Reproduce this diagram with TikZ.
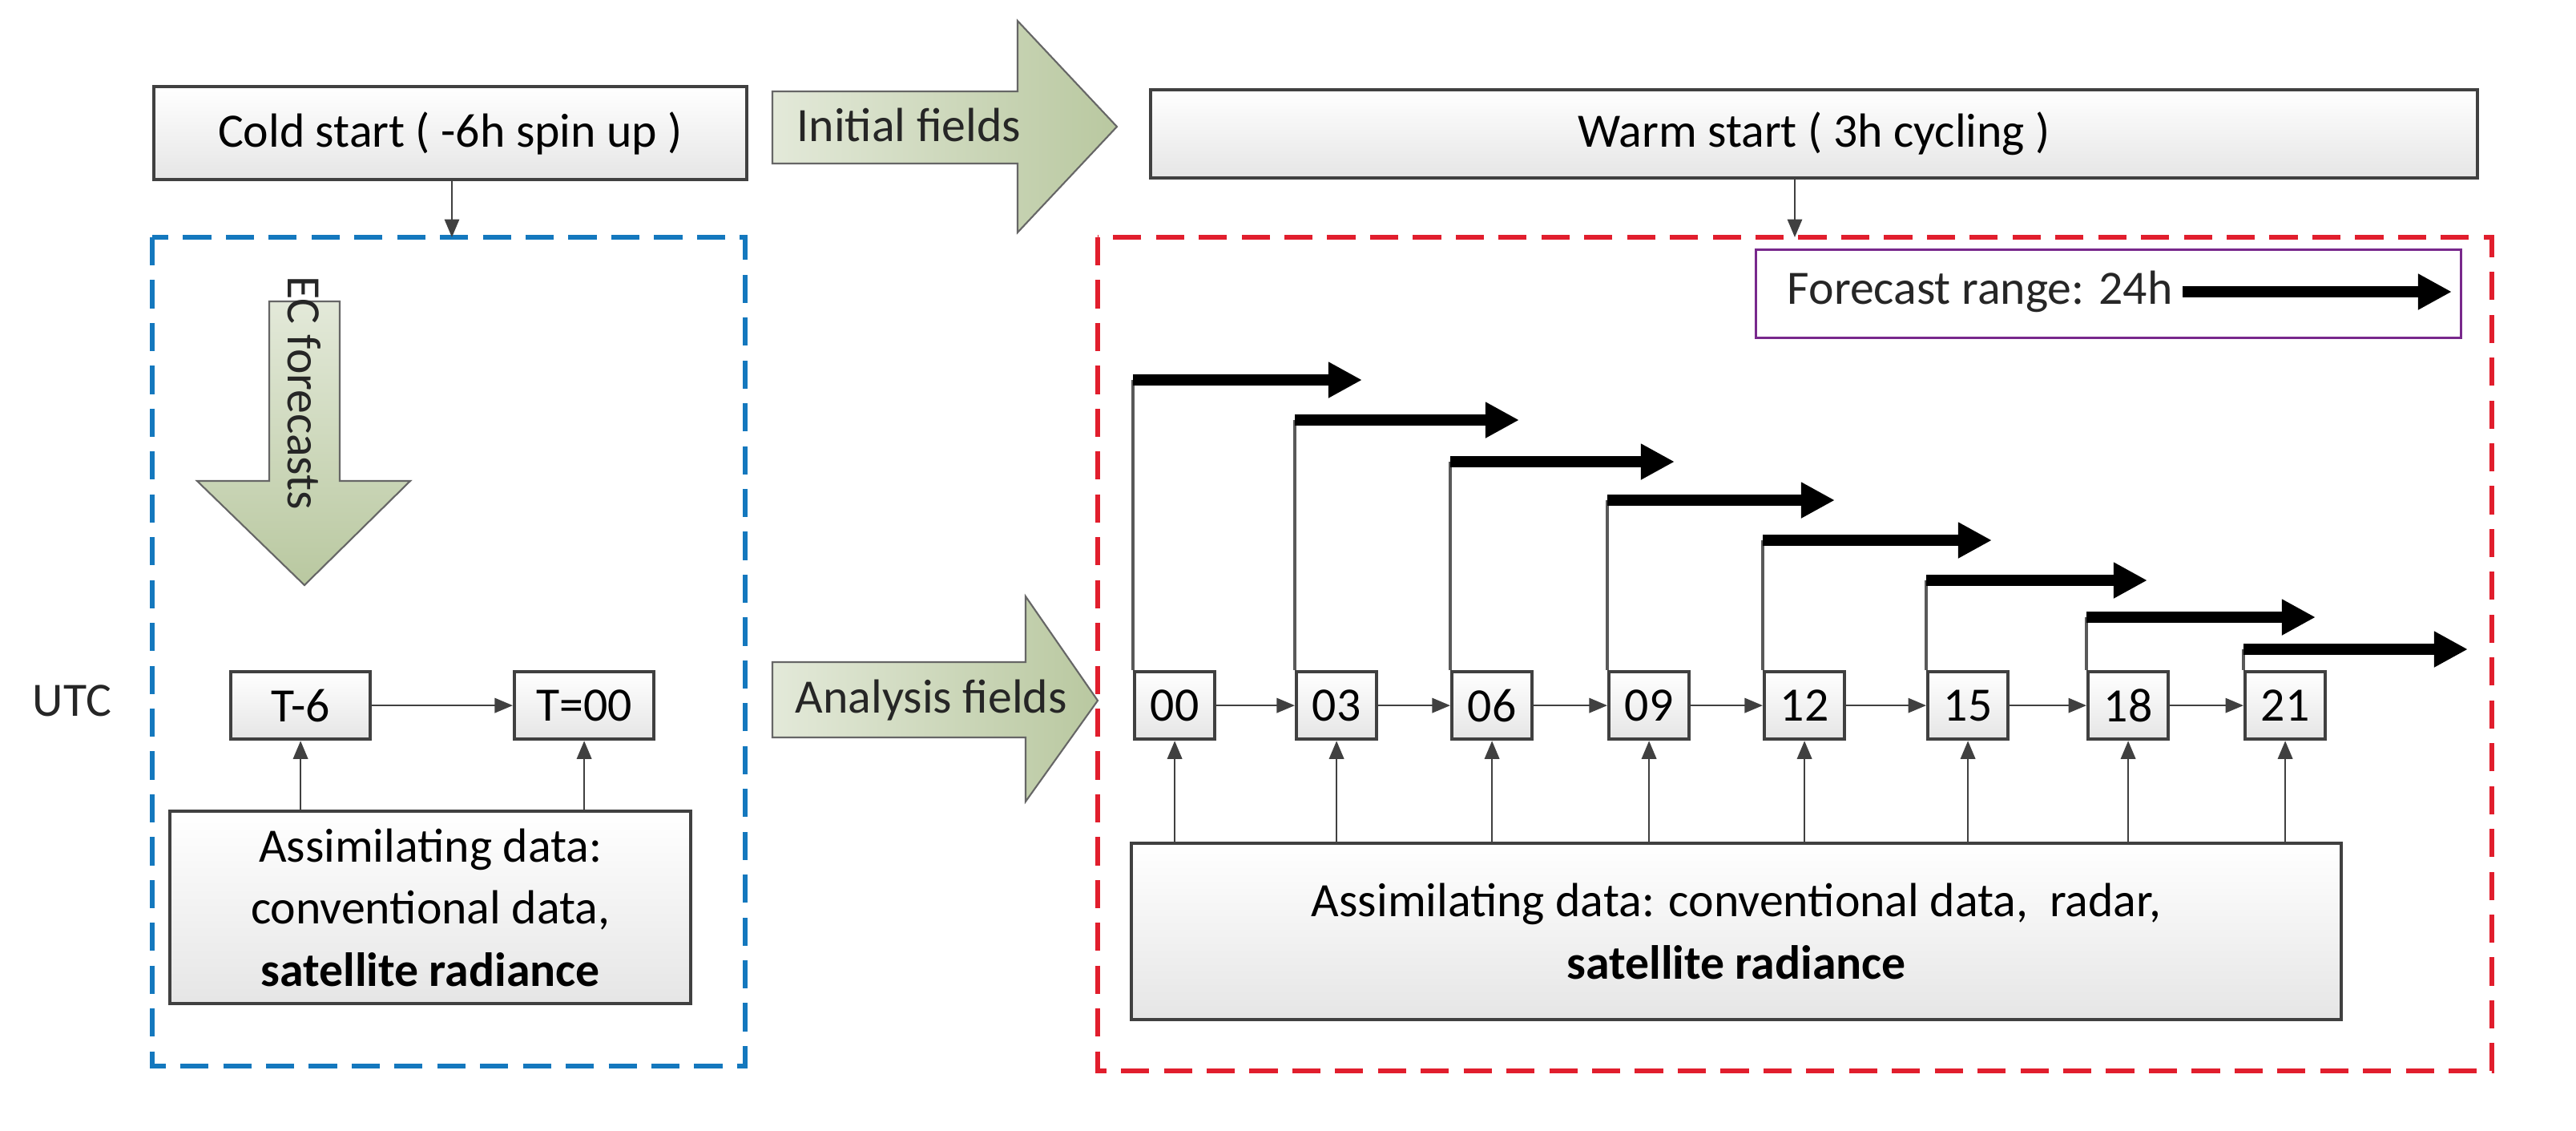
\documentclass[tikz,border=0pt]{standalone}
\usepackage{fontspec}
\setmainfont{Carlito}
\usetikzlibrary{arrows.meta}
\definecolor{grn}{RGB}{185,200,160}
\definecolor{bl}{RGB}{20,120,190}
\definecolor{rd}{RGB}{225,30,45}
\definecolor{pur}{RGB}{120,40,140}
\begin{document}
\begin{tikzpicture}[x=0.01cm,y=-0.01cm,
 box/.style={draw=black!75,line width=0.6pt,top color=white,bottom color=black!10,inner sep=0pt,font=\fontsize{8.5}{11}\selectfont},
 tbox/.style={box,minimum width=50*0.01cm,minimum height=42*0.01cm},
 gbase/.style={draw=black!60,line width=0.3pt},
 garrow/.style={gbase,left color=grn!40,right color=grn},
 vgarrow/.style={gbase,top color=grn!40,bottom color=grn},
 con/.style={draw=black!75,line width=0.35pt,-{Triangle[length=3.2pt,width=2.6pt]}},
 thick/.style={line width=2pt,-{Triangle[length=6pt,width=6pt]}},
 lbl/.style={font=\fontsize{8.5}{11}\selectfont,text=black!85}]
\useasboundingbox (0,0) rectangle (1607.5,705);
% top
\node[box,minimum width=370*0.01cm,minimum height=58*0.01cm,anchor=north west] (cold) at (95,53) {Cold start ( -6h spin up )};
\node[box,minimum width=828*0.01cm,minimum height=55*0.01cm,anchor=north west] (warm) at (717,55) {Warm start ( 3h cycling )};
\path[garrow] (482,57)--(635,57)--(635,13)--(697,79)--(635,145)--(635,102)--(482,102)--cycle;
\node[lbl,anchor=west] (init) at (485,78) {Initial fields};
% dashed frames
\draw[bl,line width=0.9pt,dash pattern=on 5pt off 2.6pt] (95,148) rectangle (465,665);
\draw[rd,line width=0.9pt,dash pattern=on 5pt off 2.6pt] (685,148) rectangle (1555,668);
\coordinate (btop) at (282,148);
\coordinate (rtop) at (1120,148);
\draw[con] (cold.south -| btop) -- (btop);
\draw[con] (warm.south -| rtop) -- (rtop);
% EC forecasts
\path[vgarrow] (168,188)--(212,188)--(212,300)--(256,300)--(190,365)--(123,300)--(168,300)--cycle;
\node[lbl,rotate=-90] (ec) at (190,245) {EC forecasts};
% UTC row
\node[lbl] (utc) at (45,437) {UTC};
\node[tbox,minimum width=87*0.01cm,anchor=north west] (t6) at (143,418) {T-6};
\node[tbox,minimum width=87*0.01cm,anchor=north west] (t0) at (320,418) {T=00};
\draw[con] (t6) -- (t0);
\node[box,minimum width=325*0.01cm,minimum height=120*0.01cm,anchor=north west,align=center] (ldata) at (105,505) {Assimilating data:\\conventional data,\\\textbf{satellite radiance}};
\draw[con] (ldata.north -| t6) -- (t6);
\draw[con] (ldata.north -| t0) -- (t0);
% Analysis fields
\path[garrow] (482,413)--(640,413)--(640,372)--(685,437)--(640,500)--(640,460)--(482,460)--cycle;
\node[lbl,anchor=west] (ana) at (484,437) {Analysis fields};
% time boxes
\node[box,minimum width=755*0.01cm,minimum height=110*0.01cm,anchor=north west,align=center] (rdata) at (705,525) {Assimilating data: conventional data,\ \ radar,\\\textbf{satellite radiance}};
\foreach \n/\x/\ay/\ex in {00/707/237/850,03/808/262/948,06/905/288/1045,09/1003/312/1145,12/1100/337/1243,15/1202/362/1340,18/1302/385/1445,21/1400/405/1540}{
 \node[tbox,anchor=north west] (b\n) at (\x,418) {\n};
 \draw[con] (rdata.north -| b\n) -- (b\n);
 \coordinate (s\n) at (\x,\ay);
 \coordinate (e\n) at (\ex,\ay);
 \draw[black!65,line width=0.7pt] (b\n.north west) -- (s\n);
 \draw[thick] (s\n) -- (e\n);
}
\foreach \a/\b in {00/03,03/06,06/09,09/12,12/15,15/18,18/21}{\draw[con] (b\a) -- (b\b);}
% forecast range
\node[draw=pur,line width=0.4pt,minimum width=440*0.01cm,minimum height=55*0.01cm,anchor=north west] (fr) at (1095,155) {};
\node[lbl,anchor=west] (frt) at (1103,182) {Forecast range: 24h};
\coordinate (fa) at (1362,182);
\coordinate (fb) at (1530,182);
\draw[thick] (fa) -- (fb);
\end{tikzpicture}
\end{document}
